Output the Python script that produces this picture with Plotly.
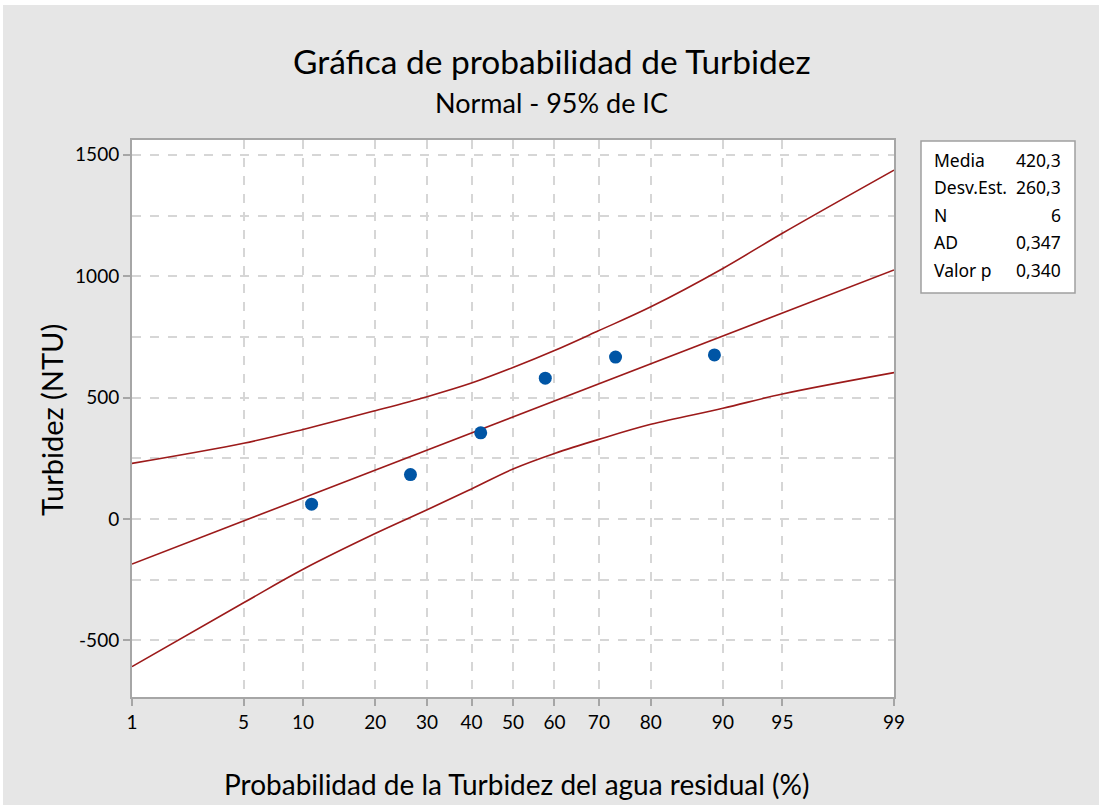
from statistics import NormalDist
import plotly.graph_objects as go

# Probability scale ticks (percent)
prob_ticks = [1, 5, 10, 20, 30, 40, 50, 60, 70, 80, 90, 95, 99]

# Sample of turbidity (NTU), sorted
turbidez = [61, 183, 355, 580, 667, 676]

# Summary statistics shown in the box
MEDIA = 420.3
DESV_EST = 260.3
N = 6
AD = "0,347"
VALOR_P = "0,340"

# 95% confidence band for the percentiles, evaluated at prob_ticks
banda_sup = [229, 312, 369, 446, 504, 560, 624, 694, 776, 874, 1032, 1177, 1437]
banda_inf = [-608, -345, -207, -60, 38, 124, 206, 270, 328, 390, 456, 515, 603]

nd = NormalDist()
z_ticks = [nd.inv_cdf(p / 100) for p in prob_ticks]

# Plotting positions: median ranks (Benard)
n = len(turbidez)
z_pts = [nd.inv_cdf((i + 1 - 0.3) / (n + 0.4)) for i in range(n)]

# Fitted normal line from the stated mean and standard deviation
z_lim = [z_ticks[0], z_ticks[-1]]
fit_y = [MEDIA + DESV_EST * z for z in z_lim]

RED = "#9c1a1a"
BLUE = "#0055a5"
GRID = "#d6d6d6"
AXIS = "#a6a6a6"
BG = "#e6e6e6"
FONT = "Lato"

fig = go.Figure()
fig.add_trace(go.Scatter(x=z_ticks, y=banda_sup, mode="lines", line=dict(color=RED, width=1.6, shape="spline"),
                         hoverinfo="skip", showlegend=False))
fig.add_trace(go.Scatter(x=z_ticks, y=banda_inf, mode="lines", line=dict(color=RED, width=1.6, shape="spline"),
                         hoverinfo="skip", showlegend=False))
fig.add_trace(go.Scatter(x=z_lim, y=fit_y, mode="lines", line=dict(color=RED, width=1.6),
                         hoverinfo="skip", showlegend=False))
fig.add_trace(go.Scatter(x=z_pts, y=turbidez, mode="markers",
                         marker=dict(color=BLUE, size=13, line=dict(width=0)), showlegend=False))

# Plot area geometry in pixels
W, H = 1099, 805
L, R, T, B = 132, 894, 140, 697
pw, ph = R - L, B - T


def px(xp):
    return (xp - L) / pw


def py(yp):
    return (B - yp) / ph


annotations = [
    dict(text="Gráfica de probabilidad de Turbidez", x=px(552), y=py(61), font=dict(size=33.5, color="black", family=FONT)),
    dict(text="Normal - 95% de IC", x=px(551), y=py(103), font=dict(size=27, color="black", family=FONT)),
    dict(text="Probabilidad de la Turbidez del agua residual (%)", x=px(516), y=py(784),
         font=dict(size=28, color="black", family=FONT)),
    dict(text="Turbidez (NTU)", x=px(51), y=py(420), textangle=-90, font=dict(size=29, color="black", family=FONT)),
]
for a in annotations:
    a.update(xref="paper", yref="paper", showarrow=False, xanchor="center", yanchor="middle")

stats_rows = [("Media", f"{MEDIA:.1f}".replace(".", ",")),
              ("Desv.Est.", f"{DESV_EST:.1f}".replace(".", ",")),
              ("N", str(N)),
              ("AD", AD),
              ("Valor p", VALOR_P)]
row_y = [160, 187, 215, 242, 270]
for (lab, val), yy in zip(stats_rows, row_y):
    annotations.append(dict(text=lab, x=px(932), y=py(yy), xref="paper", yref="paper", showarrow=False,
                            xanchor="left", yanchor="middle", font=dict(size=17.5, color="black", family="Noto Sans")))
    annotations.append(dict(text=val, x=px(1063), y=py(yy), xref="paper", yref="paper", showarrow=False,
                            xanchor="right", yanchor="middle", font=dict(size=17.5, color="black", family="Noto Sans")))

shapes = [
    # statistics box
    dict(type="rect", xref="paper", yref="paper", x0=px(921), x1=px(1075), y0=py(293), y1=py(141),
         fillcolor="white", line=dict(color="#a0a0a0", width=1.5), layer="above"),
    # page edge strips
    dict(type="rect", xref="paper", yref="paper", x0=px(0), x1=px(W), y0=py(5), y1=py(0),
         fillcolor="white", line=dict(width=0), layer="above"),
    dict(type="rect", xref="paper", yref="paper", x0=px(0), x1=px(3), y0=py(H), y1=py(0),
         fillcolor="white", line=dict(width=0), layer="above"),
]

tick_font = dict(size=19, color="black", family=FONT)

fig.update_layout(
    width=W, height=H,
    margin=dict(l=L, r=W - R, t=T, b=H - B),
    paper_bgcolor=BG, plot_bgcolor="white",
    annotations=annotations, shapes=shapes,
    font=dict(family=FONT, color="black"),
    xaxis=dict(range=z_lim, tickvals=z_ticks, ticktext=[str(p) for p in prob_ticks],
               showgrid=True, gridcolor=GRID, griddash="dash", gridwidth=1.5,
               showline=True, linecolor=AXIS, linewidth=2, mirror=True,
               ticks="outside", ticklen=7, tickcolor=AXIS, tickwidth=1.5,
               tickfont=tick_font, zeroline=False),
    yaxis=dict(range=[-733, 1561], tickvals=[-500, 0, 500, 1000, 1500],
               ticktext=["-500", "0", "500", "1000", "1500"],
               showgrid=True, gridcolor=GRID, griddash="dash", gridwidth=1.5,
               minor=dict(tickvals=[-750, -250, 250, 750, 1250], showgrid=True, gridcolor=GRID,
                          griddash="dash", gridwidth=1.5, ticks=""),
               showline=True, linecolor=AXIS, linewidth=2, mirror=True,
               ticks="outside", ticklen=7, tickcolor=AXIS, tickwidth=1.5,
               tickfont=tick_font, zeroline=False),
)

fig.write_html("out.html")
